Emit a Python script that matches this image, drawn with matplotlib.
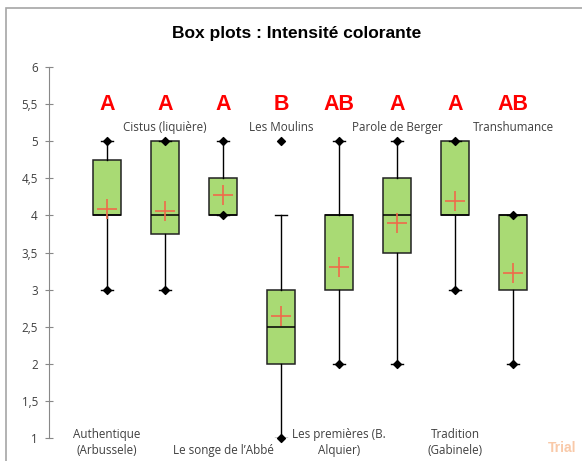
import numpy as np
import matplotlib.pyplot as plt
from matplotlib.patches import Rectangle

# données
produits = ["Authentique\n(Arbussele)", "Cistus (liquière)", "Le songe de l\u2019Abbé",
            "Les Moulins", "Les premières (B.\nAlquier)", "Parole de Berger",
            "Tradition\n(Gabinele)", "Transhumance"]
groupes = ["A", "A", "A", "B", "AB", "A", "A", "AB"]
minimum = [3, 3, 4, 1, 2, 2, 3, 2]
q1 = [4, 3.75, 4, 2, 3, 3.5, 4, 3]
mediane = [4, 4, 4, 2.5, 4, 4, 4, 4]
q3 = [4.75, 5, 4.5, 3, 4, 4.5, 5, 4]
whisk_haut = [5, 5, 5, 4, 5, 5, 5, 4]
maximum = [5, 5, 5, 5, 5, 5, 5, 4]
moyenne = [4.09, 4.06, 4.27, 2.65, 3.31, 3.90, 4.19, 3.22]
yticks = [1, 1.5, 2, 2.5, 3, 3.5, 4, 4.5, 5, 5.5, 6]

W, H = 582, 461
fig = plt.figure(figsize=(W / 100, H / 100), dpi=100)
ax = fig.add_axes([49 / W, 23 / H, 522 / W, 371 / H])

# cadre gris du graphique
fig.patches.append(Rectangle((6 / W, -0.1), 1.2, (H - 8) / H + 0.1,
                             transform=fig.transFigure, fill=False,
                             edgecolor="#a6a6a6", linewidth=1.2))

pos = np.arange(1, len(produits) + 1)
stats = []
for i in range(len(produits)):
    stats.append(dict(whislo=minimum[i], q1=q1[i], med=mediane[i], q3=q3[i],
                      whishi=whisk_haut[i], fliers=[]))

ax.bxp(stats, positions=pos, widths=0.48, patch_artist=True,
       boxprops=dict(facecolor="#a9da74", edgecolor="#222222", linewidth=1.1),
       medianprops=dict(color="black", linewidth=1.1),
       whiskerprops=dict(color="black", linewidth=1.0),
       capprops=dict(color="black", linewidth=1.0), capwidths=0.2)

# min / max
ax.scatter(pos, minimum, marker="D", s=16, color="black", zorder=4, clip_on=False)
ax.scatter(pos, maximum, marker="D", s=16, color="black", zorder=4, clip_on=False)

# moyennes
ax.scatter(pos, moyenne, marker="+", s=200, color="#ef6a4a", linewidths=1.2, zorder=5)

# lettres des groupes
for x, g in zip(pos, groupes):
    ax.text(x, 5.5, g, color="#ff0000", fontsize=15.5, fontweight="bold",
            ha="center", va="center", family="Liberation Sans")

# étiquettes des produits, alternées haut / bas
for x, lab in zip(pos, produits):
    if x % 2 == 0:
        ax.text(x, 5.19, lab, ha="center", va="center", fontsize=8.4,
                color="#404040", family="Open Sans")
    else:
        ax.text(x, 0.74, lab, ha="center", va="bottom", fontsize=8.4,
                color="#404040", family="Open Sans", linespacing=1.35,
                clip_on=False)

ax.set_xlim(0, 9)
ax.set_ylim(1, 6)
ax.set_yticks(yticks)
ax.set_yticklabels([("%g" % v).replace(".", ",") for v in yticks],
                   fontsize=8.4, color="#404040", family="Open Sans")
ax.set_xticks([])
ax.tick_params(axis="y", direction="inout", length=6, color="#888888", pad=5)
for s in ["top", "right", "bottom"]:
    ax.spines[s].set_visible(False)
ax.spines["left"].set_color("#888888")

fig.text(297 / W, 1 - 33 / H, "Box plots : Intensité colorante", ha="center",
         va="center", fontsize=12.5, fontweight="bold", family="Liberation Sans")

# filigrane
fig.text(548 / W, 1 - 448 / H, "Trial", color="#f9c9a8", fontsize=10,
         fontweight="bold", va="center", ha="left", family="Liberation Sans")

fig.savefig("out.png", dpi=100)
